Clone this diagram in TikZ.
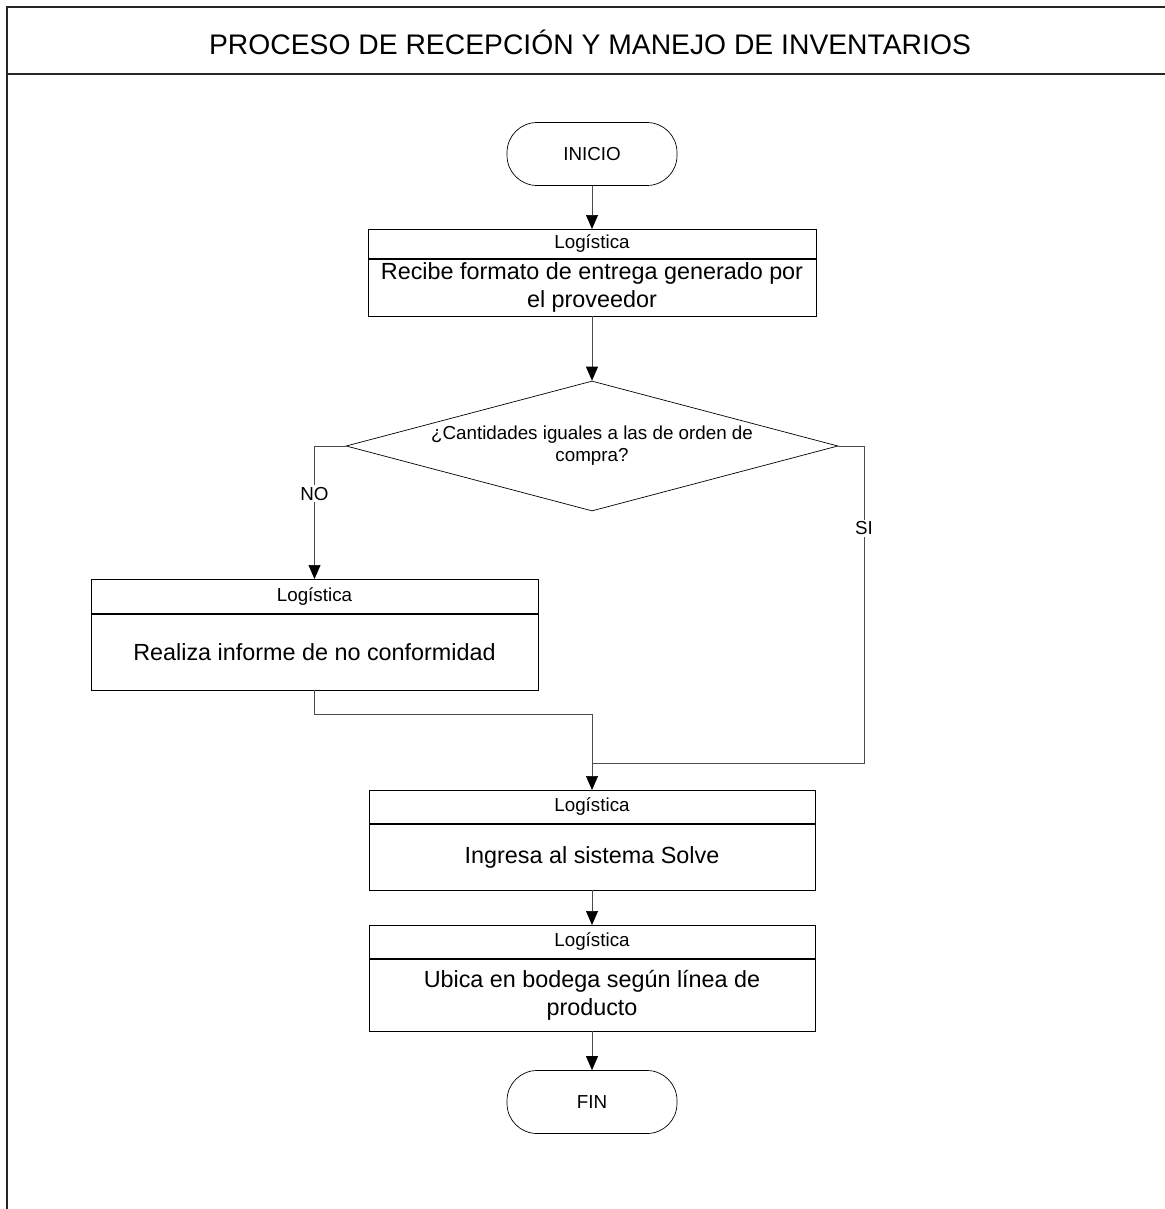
\documentclass[tikz,border=0pt]{standalone}
\usepackage{fontspec}
\setmainfont{Liberation Sans}
\usetikzlibrary{shapes.geometric,arrows.meta,positioning}

\begin{document}
\begin{tikzpicture}
            [x=0.02cm,y=-0.02cm,thin,
             every node/.style={inner sep=0pt,align=center,font=\fontsize{10.7}{12.5}\selectfont},
             frame/.style={line width=1pt,draw=black!85},
             term/.style={draw,rounded corners=0.6cm,minimum width=3.4cm,minimum height=1.26cm},
             head/.style={draw,minimum height=0.66cm},
             body/.style={draw,font=\fontsize{13.3}{15.9}\selectfont},
             decision/.style={draw,diamond,aspect=3.78,minimum width=9.84cm,minimum height=2.6cm},
             line/.style={draw=black!70},
             arr/.style={line,-{Triangle[length=0.28cm,width=0.24cm,color=black]}},
             lbl/.style={fill=white,inner sep=1pt}]
            \useasboundingbox (0,0) rectangle (1165,1209);

            % frame and title
            \draw[frame] (1165,7) -- (7,7) -- (7,1209);
            \draw[frame] (7,74) -- (1165,74);
            \node[font=\fontsize{16.1}{19}\selectfont] (title) at (590,42) {PROCESO DE RECEPCIÓN Y MANEJO DE INVENTARIOS};

            % steps
            \node[term] (ini) at (592,154) {INICIO};
            \node[head,minimum width=8.96cm,minimum height=0.58cm,anchor=north] (h1) at (592,229) {Logística};
            \node[body,minimum width=8.96cm,minimum height=1.14cm,below=0pt of h1] (b1) {Recibe formato de entrega generado por\\el proveedor};
            \node[decision] (dec) at (592,446) {¿Cantidades iguales a las de orden de\\compra?};
            \node[head,minimum width=8.94cm,minimum height=0.68cm,anchor=north] (h2) at (314.5,579) {Logística};
            \node[body,minimum width=8.94cm,minimum height=1.52cm,below=0pt of h2] (b2) {Realiza informe de no conformidad};
            \node[head,minimum width=8.92cm,anchor=north] (h3) at (592,790) {Logística};
            \node[body,minimum width=8.92cm,minimum height=1.32cm,below=0pt of h3] (b3) {Ingresa al sistema Solve};
            \node[head,minimum width=8.92cm,anchor=north] (h4) at (592,925) {Logística};
            \node[body,minimum width=8.92cm,minimum height=1.44cm,below=0pt of h4] (b4) {Ubica en bodega según línea de\\producto};
            \node[term] (fin) at (592,1102) {FIN};

            \coordinate (m1) at (592,714);
            \coordinate (m2) at (864,763);

            % connectors
            \draw[arr] (ini) -- (h1);
            \draw[arr] (b1) -- (dec);
            \draw[arr] (dec.west) -| node[lbl,pos=0.68] {NO} (h2.north);
            \draw[arr] (b2.south) |- (m1) -- (h3.north);
            \draw[line] (dec.east) -| node[lbl,pos=0.63] {SI} (m2) -- (m2 -| h3.north);
            \draw[arr] (b3) -- (h4);
            \draw[arr] (b4) -- (fin);
        \end{tikzpicture}
\end{document}
